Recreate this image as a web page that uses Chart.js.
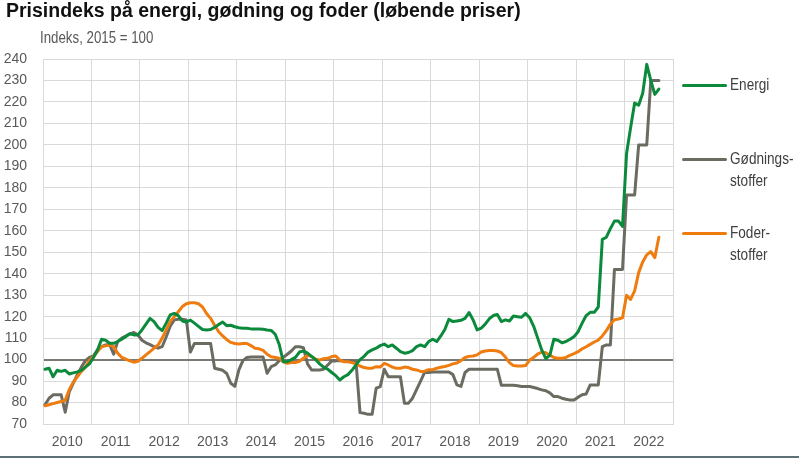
<!DOCTYPE html>
<html>
<head>
<meta charset="utf-8">
<script src="https://cdn.jsdelivr.net/npm/chart.js@4.4.1/dist/chart.umd.min.js"></script>
<style>
    html, body { margin: 0; padding: 0; background: #fff; }
    #wrap { position: relative; width: 799px; height: 460px; overflow: hidden; }
    #title { position: absolute; left: 6px; top: 0; font: bold 19.5px "Liberation Sans", Arial, sans-serif; line-height: 20px; color: #111; white-space: nowrap; }
    #subtitle { position: absolute; left: 40px; top: 30px; font: 16px "Liberation Sans", Arial, sans-serif; line-height: 16px; color: #595959; white-space: nowrap; transform: scaleX(0.83); transform-origin: left top; }
    #legend { position: absolute; left: 682px; top: 0; }
    .leg-item { position: absolute; left: 0; white-space: nowrap; }
    .leg-line { position: absolute; left: 0; width: 45px; height: 3px; border-radius: 2px; }
    .leg-text { position: absolute; left: 48px; font: 16px "Liberation Sans", Arial, sans-serif; color: #404040; line-height: 22px; transform: scaleX(0.85); transform-origin: left top; }
    #bottomLine { position: absolute; left: 0; top: 456px; width: 799px; height: 2px; background: #5d7075; }
    canvas { position: absolute; left: 0; top: 0; }
</style>
</head>
<body>
<div id="wrap">
    <canvas id="chart" width="799" height="460"></canvas>
    <div id="title">Prisindeks på energi, gødning og foder (løbende priser)</div>
    <div id="subtitle">Indeks, 2015 = 100</div>
    <div id="legend"></div>
    <div id="bottomLine"></div>
</div>
<script>
// Year labels, monthly data Jan 2010 - Sep 2022
const yearLabels = ['2010', '2011', '2012', '2013', '2014', '2015', '2016', '2017', '2018', '2019', '2020', '2021', '2022'];
const yTicks = [70, 240, 10]; // min, max, step

const energi = [
    95.5, 96, 92, 95, 94.5, 95, 93.3, 93.8, 94.3, 95, 96.5, 98,
    101, 104.5, 109.5, 109, 107.6, 107.6, 108.4, 109.5, 110.7, 112, 111.5, 111.5,
    113.8, 116.5, 119.2, 117.7, 115, 113.5, 117, 120.8, 121.5, 120.5, 118, 117.5,
    118.4, 117, 115.5, 114, 113.8, 114, 115, 116.3, 117.5, 115.8, 116, 115.3,
    114.8, 114.6, 114.6, 114.3, 114.3, 114.3, 114.1, 113.8, 113.6, 111.8, 107, 99,
    99, 100, 101, 103.5, 104, 103, 101.5, 100, 98, 96.5, 95.5, 94,
    92.5, 90.5, 92, 93, 95, 97.5, 100, 101.5, 103.5, 104.5, 105.3, 106.5,
    107.2, 106, 106.8, 105.3, 103.7, 103, 103.3, 104.2, 106, 106.8, 106, 108.4,
    109.5, 108.4, 111, 114, 118.8, 117.7, 118, 118.3, 119.2, 121.9, 118.5, 113.8,
    114.6, 116.5, 119, 120.5, 121, 117.7, 118.5, 118, 120.3, 120, 119.7, 121.5,
    119.5, 115.5, 110, 104.5, 100.5, 102, 109.5, 109, 107.8, 108.4, 109.5, 110.7,
    113, 117, 120.5, 122, 122, 124.5, 156, 157, 161, 164.5, 164.5, 162,
    196, 208, 219.5, 218.5, 224, 237.5, 230, 223.5, 226
];

const goedning = [
    79, 82, 83.6, 83.6, 83.6, 75.5, 85, 89, 93, 96.5, 99.5, 101,
    101.7, 104.5, 106, 106.8, 107, 102.5, 108.4, 110, 111, 112, 112.6, 111.5,
    109, 107.8, 107, 106, 105.3, 106, 110.5, 115.5, 118.5, 118.8, 118.8, 118.5,
    103.5, 107.5, 107.5, 107.5, 107.5, 107.5, 96, 95.5, 95, 93.5, 89, 87.5,
    95.2, 99.5, 101, 101.2, 101.2, 101.2, 101.2, 93.6, 96.7, 97.5, 99.5, 101,
    102.5, 104, 106, 106, 105.5, 98, 95.2, 95.2, 95.2, 95.5, 97.5, 99.4,
    99.4, 99.5, 99.5, 99.5, 99.5, 99, 75.3, 75, 74.5, 74.5, 86.7, 87.4,
    95.5, 92, 92, 92, 92, 79.7, 79.7, 82, 86, 90, 94, 94,
    94.2, 94.2, 94.2, 94.2, 94.2, 93, 88.2, 87.5, 94, 95.5, 95.5, 95.5,
    95.5, 95.5, 95.5, 95.5, 95.5, 88, 88, 88, 88, 87.8, 87.5, 87.5,
    87.5, 87, 86.5, 85.9, 85.5, 84.5, 82.8, 82.8, 82, 81.5, 81.2, 81.2,
    82.5, 83.6, 84, 88.2, 88.2, 88.2, 106, 106.8, 106.8, 142, 142, 142,
    176.7, 176.7, 176.7, 200, 200, 200, 230, 230, 230
];

const foder = [
    78.5, 79, 79.5, 80, 80.5, 81, 86, 89.5, 92, 94.5, 96.5, 99.5,
    101.4, 103.7, 106, 106.4, 106.8, 106, 103, 101, 100.2, 99.4, 98.8, 99.2,
    100.6, 102.2, 103.7, 105.3, 106.8, 110, 113.8, 117.7, 120, 122.3, 124.7, 126,
    126.5, 126.5, 126, 124.5, 121.5, 119.2, 116, 113, 111, 109.3, 108, 107.5,
    107.3, 107.5, 107.5, 106.5, 105.3, 105, 104.3, 102.5, 101.3, 101, 100.6, 99,
    98.3, 98.6, 98.6, 99.2, 100.6, 102, 101.5, 100.2, 99.8, 100.4, 100.6, 101.4,
    101.7, 99.8, 99, 99, 98.6, 98, 97, 96.3, 96, 96, 96.7, 96.5,
    98.2, 97.5, 96.5, 96, 96, 96.5, 96.3, 95.5, 95.2, 94.5, 94.6, 95.3,
    95.3, 96, 96.4, 96.8, 97.3, 98, 98.4, 99.5, 101, 101.5, 101.7, 102.2,
    103.5, 104, 104.2, 104.2, 104, 103.2, 101.2, 98.6, 97.2, 97, 97, 97.2,
    99.8, 101, 102.6, 103.5, 103.2, 102, 101, 100.6, 100.6, 101, 102, 102.8,
    103.7, 105, 106, 107.1, 108.2, 109.1, 111, 113.5, 116.5, 118.6, 118.9, 119.5,
    130, 128, 132, 140.5, 145.5, 148.8, 150.3, 147.5, 157
];

const seriesNames = ['Energi', 'Gødnings-\nstoffer', 'Foder-\nstoffer'];
const seriesColors = ['#0b8a3c', '#6c6b62', '#ee7c0e'];
const legendTops = [85, 159, 233];

const tickFont = { family: '"Liberation Sans", Arial, sans-serif', size: 14 };

// month index -> x position in the middle of the month
function toPoints(values) {
    return values.map((v, i) => ({ x: i + 0.5, y: v }));
}

const datasets = [energi, goedning, foder].map((vals, k) => ({
    label: seriesNames[k],
    data: toPoints(vals),
    borderColor: seriesColors[k],
    backgroundColor: seriesColors[k],
    borderWidth: 3,
    pointRadius: 0,
    tension: 0,
    borderJoinStyle: 'round',
    borderCapStyle: 'round',
    fill: false
}));

// energi on top, then foder, gødning at the bottom
datasets[0].order = 1;
datasets[1].order = 3;
datasets[2].order = 2;

new Chart(document.getElementById('chart'), {
    type: 'line',
    data: { datasets: datasets },
    options: {
        responsive: false,
        animation: false,
        layout: { padding: { top: 59, right: 126, bottom: 0, left: 0 } },
        plugins: {
            legend: { display: false },
            tooltip: { enabled: false }
        },
        scales: {
            x: {
                type: 'linear',
                min: 0,
                max: yearLabels.length * 12,
                afterFit: s => { s.height = 36; },
                border: { color: '#d9d9d9', width: 1 },
                grid: {
                    drawTicks: false,
                    color: ctx => (ctx.tick && ctx.tick.value % 12 === 0) ? '#d9d9d9' : 'rgba(0,0,0,0)'
                },
                ticks: {
                    stepSize: 6,
                    autoSkip: false,
                    maxRotation: 0,
                    padding: 10,
                    color: '#595959',
                    font: tickFont,
                    callback: v => (v % 12 === 6) ? yearLabels[(v - 6) / 12] : ''
                }
            },
            y: {
                min: yTicks[0],
                max: yTicks[1],
                afterFit: s => { s.width = 43; },
                border: { color: '#d9d9d9', width: 1 },
                grid: {
                    drawTicks: false,
                    color: ctx => (ctx.tick && ctx.tick.value === 100) ? '#7a7a74' : '#d9d9d9',
                    lineWidth: ctx => (ctx.tick && ctx.tick.value === 100) ? 2 : 1
                },
                ticks: {
                    stepSize: yTicks[2],
                    autoSkip: false,
                    padding: 16,
                    color: '#595959',
                    font: tickFont
                }
            }
        }
    }
});

// Legend
const legend = document.getElementById('legend');
seriesNames.forEach((name, k) => {
    const item = document.createElement('div');
    item.className = 'leg-item';
    item.style.top = legendTops[k] + 'px';
    const line = document.createElement('div');
    line.className = 'leg-line';
    line.style.background = seriesColors[k];
    line.style.top = '-1.5px';
    const text = document.createElement('div');
    text.className = 'leg-text';
    text.style.top = '-11px';
    text.innerHTML = name.replace('\n', '<br>');
    item.appendChild(line);
    item.appendChild(text);
    legend.appendChild(item);
});
</script>
</body>
</html>
